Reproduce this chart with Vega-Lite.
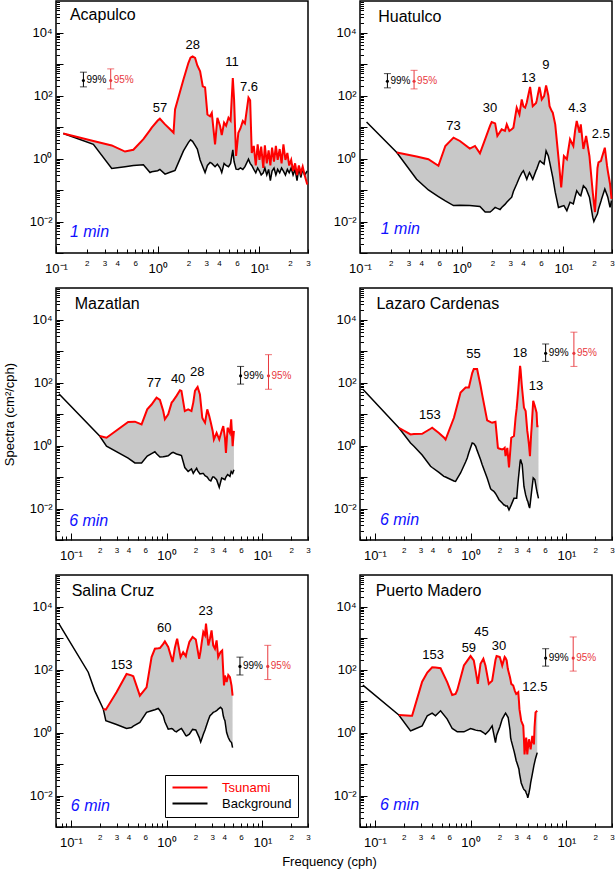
{
"$schema": "https://vega.github.io/schema/vega-lite/v6.json",
"padding": {"left": 2, "top": 0, "right": 2, "bottom": 2},
"config": {
 "font": "Liberation Sans",
 "view": {"stroke": "#000", "strokeWidth": 1.5},
 "axis": {"domain": false, "grid": false, "tickColor": "#000", "tickWidth": 1, "labelColor": "#000", "labelFont": "Liberation Sans", "titleFont": "Liberation Sans", "titleColor": "#000", "labelFlush": false, "labelOverlap": false, "titleFontWeight": "normal", "titleFontSize": 13},
 "text": {"font": "Liberation Sans"}
},
"datasets": {"d": [
{"k":"s","st":"ACA","f":0.118,"t":6.2,"b":6.2},{"k":"s","st":"ACA","f":0.233,"t":3.6,"b":2.8},{"k":"s","st":"ACA","f":0.353,"t":2.6,"b":0.48},{"k":"s","st":"ACA","f":0.477,"t":1.66,"b":0.55},{"k":"s","st":"ACA","f":0.576,"t":1.9,"b":0.6},{"k":"s","st":"ACA","f":0.723,"t":4.1,"b":0.63},{"k":"s","st":"ACA","f":0.84,"t":8,"b":0.36},{"k":"s","st":"ACA","f":0.873,"t":9.5,"b":0.38},{"k":"s","st":"ACA","f":1.0,"t":16,"b":0.41},{"k":"s","st":"ACA","f":1.05,"t":18.3,"b":0.45},{"k":"s","st":"ACA","f":1.18,"t":12.1,"b":0.32},{"k":"s","st":"ACA","f":1.3,"t":9,"b":0.36},{"k":"s","st":"ACA","f":1.43,"t":6.6,"b":0.4},{"k":"s","st":"ACA","f":1.48,"t":36,"b":0.42},{"k":"s","st":"ACA","f":1.79,"t":320,"b":1.75},{"k":"s","st":"ACA","f":2.0,"t":1070,"b":3.2},{"k":"s","st":"ACA","f":2.1,"t":1600,"b":3.9},{"k":"s","st":"ACA","f":2.2,"t":1750,"b":3.5},{"k":"s","st":"ACA","f":2.33,"t":1550,"b":2.6},{"k":"s","st":"ACA","f":2.45,"t":900,"b":2.0},{"k":"s","st":"ACA","f":2.61,"t":590,"b":0.9},{"k":"s","st":"ACA","f":2.77,"t":196,"b":0.55},{"k":"s","st":"ACA","f":2.92,"t":180,"b":0.36},{"k":"s","st":"ACA","f":3.08,"t":25,"b":0.6},{"k":"s","st":"ACA","f":3.27,"t":22,"b":0.75},{"k":"s","st":"ACA","f":3.4,"t":28,"b":0.7},{"k":"s","st":"ACA","f":3.66,"t":2.8,"b":0.55},{"k":"s","st":"ACA","f":3.86,"t":19.7,"b":0.66},{"k":"s","st":"ACA","f":4.1,"t":10.8,"b":0.5},{"k":"s","st":"ACA","f":4.26,"t":5.5,"b":0.36},{"k":"s","st":"ACA","f":4.49,"t":13.7,"b":0.7},{"k":"s","st":"ACA","f":4.7,"t":11,"b":0.6},{"k":"s","st":"ACA","f":4.96,"t":19.7,"b":0.55},{"k":"s","st":"ACA","f":5.2,"t":16,"b":0.7},{"k":"s","st":"ACA","f":5.47,"t":361,"b":1.88},{"k":"s","st":"ACA","f":5.63,"t":75,"b":0.8},{"k":"s","st":"ACA","f":5.89,"t":1.2,"b":0.46},{"k":"s","st":"ACA","f":6.2,"t":6.6,"b":0.45},{"k":"s","st":"ACA","f":6.5,"t":9,"b":0.5},{"k":"s","st":"ACA","f":6.86,"t":15.5,"b":0.45},{"k":"s","st":"ACA","f":7.2,"t":13,"b":0.55},{"k":"s","st":"ACA","f":7.8,"t":85,"b":0.95},{"k":"s","st":"ACA","f":8.1,"t":70,"b":0.7},{"k":"s","st":"ACA","f":8.4,"t":1.5,"b":0.6},{"k":"s","st":"ACA","f":8.8,"t":2.5,"b":0.45},{"k":"s","st":"ACA","f":9.2,"t":0.6,"b":0.35},{"k":"s","st":"ACA","f":9.6,"t":2.8,"b":0.5},{"k":"s","st":"ACA","f":10.0,"t":0.9,"b":0.4},{"k":"s","st":"ACA","f":10.4,"t":2.4,"b":0.3},{"k":"s","st":"ACA","f":10.9,"t":0.5,"b":0.35},{"k":"s","st":"ACA","f":11.3,"t":2.6,"b":0.5},{"k":"s","st":"ACA","f":11.8,"t":0.7,"b":0.3},{"k":"s","st":"ACA","f":12.3,"t":1.8,"b":0.45},{"k":"s","st":"ACA","f":12.8,"t":0.6,"b":0.2},{"k":"s","st":"ACA","f":13.3,"t":2.2,"b":0.4},{"k":"s","st":"ACA","f":13.9,"t":0.8,"b":0.5},{"k":"s","st":"ACA","f":14.5,"t":2.5,"b":0.3},{"k":"s","st":"ACA","f":15.1,"t":0.9,"b":0.45},{"k":"s","st":"ACA","f":15.8,"t":2.0,"b":0.35},{"k":"s","st":"ACA","f":16.5,"t":0.7,"b":0.5},{"k":"s","st":"ACA","f":17.2,"t":2.8,"b":0.4},{"k":"s","st":"ACA","f":18.0,"t":0.9,"b":0.3},{"k":"s","st":"ACA","f":18.8,"t":1.5,"b":0.45},{"k":"s","st":"ACA","f":19.6,"t":0.6,"b":0.35},{"k":"s","st":"ACA","f":20.5,"t":0.9,"b":0.5},{"k":"s","st":"ACA","f":21.4,"t":0.4,"b":0.3},{"k":"s","st":"ACA","f":22.4,"t":0.7,"b":0.45},{"k":"s","st":"ACA","f":23.4,"t":0.3,"b":0.2},{"k":"s","st":"ACA","f":24.4,"t":0.6,"b":0.5},{"k":"s","st":"ACA","f":25.5,"t":0.35,"b":0.25},{"k":"s","st":"ACA","f":26.6,"t":0.55,"b":0.45},{"k":"s","st":"ACA","f":27.8,"t":0.3,"b":0.3},{"k":"s","st":"ACA","f":29.5,"t":0.15,"b":0.4},
{"k":"s","st":"HUA","f":0.116,"b":14.4},{"k":"s","st":"HUA","f":0.23,"t":1.55,"b":1.55},{"k":"s","st":"HUA","f":0.36,"t":1.15,"b":0.22},{"k":"s","st":"HUA","f":0.47,"t":0.95,"b":0.1},{"k":"s","st":"HUA","f":0.59,"t":0.59,"b":0.062},{"k":"s","st":"HUA","f":0.69,"t":2.5,"b":0.045},{"k":"s","st":"HUA","f":0.83,"t":4.6,"b":0.032},{"k":"s","st":"HUA","f":0.96,"t":3.6,"b":0.033},{"k":"s","st":"HUA","f":1.2,"t":2.07,"b":0.032},{"k":"s","st":"HUA","f":1.35,"t":2.5,"b":0.031},{"k":"s","st":"HUA","f":1.51,"t":1.47,"b":0.03},{"k":"s","st":"HUA","f":1.7,"t":4.1,"b":0.02},{"k":"s","st":"HUA","f":1.9,"t":11,"b":0.02},{"k":"s","st":"HUA","f":1.97,"t":14.4,"b":0.022},{"k":"s","st":"HUA","f":2.13,"t":13,"b":0.028},{"k":"s","st":"HUA","f":2.24,"t":5.2,"b":0.026},{"k":"s","st":"HUA","f":2.38,"t":7,"b":0.024},{"k":"s","st":"HUA","f":2.47,"t":8.4,"b":0.028},{"k":"s","st":"HUA","f":2.66,"t":7.5,"b":0.035},{"k":"s","st":"HUA","f":2.77,"t":12.1,"b":0.041},{"k":"s","st":"HUA","f":2.94,"t":7.5,"b":0.05},{"k":"s","st":"HUA","f":3.1,"t":8.5,"b":0.059},{"k":"s","st":"HUA","f":3.22,"t":9.5,"b":0.09},{"k":"s","st":"HUA","f":3.47,"t":41,"b":0.155},{"k":"s","st":"HUA","f":3.69,"t":25,"b":0.25},{"k":"s","st":"HUA","f":3.89,"t":75,"b":0.35},{"k":"s","st":"HUA","f":4.04,"t":45,"b":0.41},{"k":"s","st":"HUA","f":4.2,"t":41,"b":0.3},{"k":"s","st":"HUA","f":4.36,"t":60,"b":0.22},{"k":"s","st":"HUA","f":4.42,"t":75,"b":0.25},{"k":"s","st":"HUA","f":4.63,"t":150,"b":0.36},{"k":"s","st":"HUA","f":4.7,"t":188,"b":0.33},{"k":"s","st":"HUA","f":4.99,"t":46,"b":0.22},{"k":"s","st":"HUA","f":5.38,"t":58,"b":0.42},{"k":"s","st":"HUA","f":5.46,"t":70,"b":0.46},{"k":"s","st":"HUA","f":5.8,"t":188,"b":0.8},{"k":"s","st":"HUA","f":5.89,"t":150,"b":0.84},{"k":"s","st":"HUA","f":6.12,"t":75,"b":0.75},{"k":"s","st":"HUA","f":6.45,"t":95,"b":0.66},{"k":"s","st":"HUA","f":6.75,"t":208,"b":1.75},{"k":"s","st":"HUA","f":7.1,"t":100,"b":1.2},{"k":"s","st":"HUA","f":7.3,"t":46,"b":0.8},{"k":"s","st":"HUA","f":7.67,"t":32,"b":0.36},{"k":"s","st":"HUA","f":7.85,"t":28.5,"b":0.25},{"k":"s","st":"HUA","f":8.3,"t":12.1,"b":0.085},{"k":"s","st":"HUA","f":8.93,"t":1.07,"b":0.028},{"k":"s","st":"HUA","f":9.5,"t":0.12,"b":0.03},{"k":"s","st":"HUA","f":10.1,"t":1.2,"b":0.032},{"k":"s","st":"HUA","f":10.8,"t":0.95,"b":0.022},{"k":"s","st":"HUA","f":11.6,"t":4.1,"b":0.041},{"k":"s","st":"HUA","f":12.5,"t":2.5,"b":0.036},{"k":"s","st":"HUA","f":13.0,"t":7.5,"b":0.06},{"k":"s","st":"HUA","f":13.5,"t":15.5,"b":0.095},{"k":"s","st":"HUA","f":14.4,"t":6.6,"b":0.07},{"k":"s","st":"HUA","f":14.8,"t":12.1,"b":0.066},{"k":"s","st":"HUA","f":15.7,"t":2.0,"b":0.137},{"k":"s","st":"HUA","f":16.7,"t":5.2,"b":0.11},{"k":"s","st":"HUA","f":18,"t":1.2,"b":0.059},{"k":"s","st":"HUA","f":19.4,"t":0.085,"b":0.0137},{"k":"s","st":"HUA","f":19.9,"t":0.04,"b":0.01},{"k":"s","st":"HUA","f":20.4,"t":0.02,"b":0.012},{"k":"s","st":"HUA","f":21.6,"t":0.5,"b":0.0175},{"k":"s","st":"HUA","f":22.1,"t":0.75,"b":0.025},{"k":"s","st":"HUA","f":23.4,"t":0.84,"b":0.045},{"k":"s","st":"HUA","f":23.7,"t":1.0,"b":0.052},{"k":"s","st":"HUA","f":25.5,"t":2.2,"b":0.108},{"k":"s","st":"HUA","f":26.8,"t":0.59,"b":0.07},{"k":"s","st":"HUA","f":27.3,"t":0.4,"b":0.059},{"k":"s","st":"HUA","f":28.7,"t":0.155,"b":0.028},{"k":"s","st":"HUA","f":29.7,"t":0.052,"b":0.046},
{"k":"s","st":"MAZ","f":0.075,"b":44},{"k":"s","st":"MAZ","f":0.2,"t":2.0,"b":2.0},{"k":"s","st":"MAZ","f":0.236,"t":1.76,"b":0.95},{"k":"s","st":"MAZ","f":0.397,"t":5.6,"b":0.4},{"k":"s","st":"MAZ","f":0.467,"t":5.7,"b":0.28},{"k":"s","st":"MAZ","f":0.548,"t":4.7,"b":0.28},{"k":"s","st":"MAZ","f":0.628,"t":14.1,"b":0.46},{"k":"s","st":"MAZ","f":0.697,"t":20,"b":0.55},{"k":"s","st":"MAZ","f":0.755,"t":28,"b":0.63},{"k":"s","st":"MAZ","f":0.786,"t":33,"b":0.55},{"k":"s","st":"MAZ","f":0.852,"t":28,"b":0.43},{"k":"s","st":"MAZ","f":0.923,"t":12.4,"b":0.44},{"k":"s","st":"MAZ","f":0.96,"t":6.8,"b":0.45},{"k":"s","st":"MAZ","f":1.04,"t":9.8,"b":0.47},{"k":"s","st":"MAZ","f":1.13,"t":23,"b":0.58},{"k":"s","st":"MAZ","f":1.17,"t":26,"b":0.61},{"k":"s","st":"MAZ","f":1.27,"t":37.6,"b":0.54},{"k":"s","st":"MAZ","f":1.38,"t":57,"b":0.5},{"k":"s","st":"MAZ","f":1.43,"t":54,"b":0.48},{"k":"s","st":"MAZ","f":1.55,"t":12.4,"b":0.2},{"k":"s","st":"MAZ","f":1.68,"t":14.1,"b":0.15},{"k":"s","st":"MAZ","f":1.82,"t":12.4,"b":0.18},{"k":"s","st":"MAZ","f":1.9,"t":23,"b":0.13},{"k":"s","st":"MAZ","f":1.98,"t":54,"b":0.16},{"k":"s","st":"MAZ","f":2.06,"t":65,"b":0.19},{"k":"s","st":"MAZ","f":2.11,"t":72,"b":0.16},{"k":"s","st":"MAZ","f":2.23,"t":42,"b":0.125},{"k":"s","st":"MAZ","f":2.36,"t":7.6,"b":0.13},{"k":"s","st":"MAZ","f":2.42,"t":6.5,"b":0.13},{"k":"s","st":"MAZ","f":2.52,"t":5.3,"b":0.11},{"k":"s","st":"MAZ","f":2.66,"t":14.1,"b":0.1},{"k":"s","st":"MAZ","f":2.79,"t":8.6,"b":0.08},{"k":"s","st":"MAZ","f":2.9,"t":5.3,"b":0.075},{"k":"s","st":"MAZ","f":3.03,"t":2.9,"b":0.1},{"k":"s","st":"MAZ","f":3.12,"t":1.55,"b":0.1},{"k":"s","st":"MAZ","f":3.33,"t":2.5,"b":0.082},{"k":"s","st":"MAZ","f":3.55,"t":1.55,"b":0.047},{"k":"s","st":"MAZ","f":3.76,"t":2.9,"b":0.093},{"k":"s","st":"MAZ","f":3.91,"t":4.1,"b":0.088},{"k":"s","st":"MAZ","f":4.07,"t":1.76,"b":0.082},{"k":"s","st":"MAZ","f":4.17,"t":0.58,"b":0.1},{"k":"s","st":"MAZ","f":4.34,"t":3.66,"b":0.12},{"k":"s","st":"MAZ","f":4.59,"t":2.5,"b":0.105},{"k":"s","st":"MAZ","f":4.73,"t":6.8,"b":0.15},{"k":"s","st":"MAZ","f":4.9,"t":0.95,"b":0.13},{"k":"s","st":"MAZ","f":5.05,"t":2.9,"b":0.17},
{"k":"s","st":"LAZ","f":0.075,"b":61},{"k":"s","st":"LAZ","f":0.178,"t":3.66,"b":3.66},{"k":"s","st":"LAZ","f":0.236,"t":2.24,"b":1.2},{"k":"s","st":"LAZ","f":0.256,"t":2.3,"b":0.95},{"k":"s","st":"LAZ","f":0.312,"t":2.36,"b":0.5},{"k":"s","st":"LAZ","f":0.382,"t":3.4,"b":0.22},{"k":"s","st":"LAZ","f":0.397,"t":3.66,"b":0.2},{"k":"s","st":"LAZ","f":0.467,"t":2.5,"b":0.14},{"k":"s","st":"LAZ","f":0.526,"t":1.8,"b":0.105},{"k":"s","st":"LAZ","f":0.548,"t":1.55,"b":0.1},{"k":"s","st":"LAZ","f":0.67,"t":7.6,"b":0.075},{"k":"s","st":"LAZ","f":0.697,"t":12,"b":0.073},{"k":"s","st":"LAZ","f":0.786,"t":48,"b":0.134},{"k":"s","st":"LAZ","f":0.887,"t":69,"b":0.3},{"k":"s","st":"LAZ","f":0.923,"t":69,"b":0.4},{"k":"s","st":"LAZ","f":0.96,"t":69,"b":0.6},{"k":"s","st":"LAZ","f":1.04,"t":200,"b":1.2},{"k":"s","st":"LAZ","f":1.08,"t":267,"b":1.15},{"k":"s","st":"LAZ","f":1.13,"t":267,"b":0.95},{"k":"s","st":"LAZ","f":1.17,"t":267,"b":0.7},{"k":"s","st":"LAZ","f":1.27,"t":80,"b":0.36},{"k":"s","st":"LAZ","f":1.32,"t":42,"b":0.25},{"k":"s","st":"LAZ","f":1.49,"t":6.3,"b":0.093},{"k":"s","st":"LAZ","f":1.62,"t":5.5,"b":0.042},{"k":"s","st":"LAZ","f":1.68,"t":5.3,"b":0.038},{"k":"s","st":"LAZ","f":1.75,"t":5.5,"b":0.035},{"k":"s","st":"LAZ","f":1.82,"t":5.7,"b":0.03},{"k":"s","st":"LAZ","f":1.93,"t":0.84,"b":0.022},{"k":"s","st":"LAZ","f":1.98,"t":0.8,"b":0.019},{"k":"s","st":"LAZ","f":2.14,"t":0.75,"b":0.015},{"k":"s","st":"LAZ","f":2.23,"t":0.8,"b":0.013},{"k":"s","st":"LAZ","f":2.27,"t":0.84,"b":0.013},{"k":"s","st":"LAZ","f":2.32,"t":0.46,"b":0.012},{"k":"s","st":"LAZ","f":2.42,"t":0.84,"b":0.012},{"k":"s","st":"LAZ","f":2.52,"t":0.2,"b":0.009},{"k":"s","st":"LAZ","f":2.66,"t":1.76,"b":0.013},{"k":"s","st":"LAZ","f":2.84,"t":2.0,"b":0.021},{"k":"s","st":"LAZ","f":2.95,"t":7.6,"b":0.021},{"k":"s","st":"LAZ","f":3.03,"t":15,"b":0.021},{"k":"s","st":"LAZ","f":3.12,"t":42,"b":0.06},{"k":"s","st":"LAZ","f":3.15,"t":60,"b":0.082},{"k":"s","st":"LAZ","f":3.29,"t":340,"b":0.3},{"k":"s","st":"LAZ","f":3.33,"t":250,"b":0.36},{"k":"s","st":"LAZ","f":3.42,"t":88,"b":0.27},{"k":"s","st":"LAZ","f":3.46,"t":60,"b":0.25},{"k":"s","st":"LAZ","f":3.61,"t":16,"b":0.05},{"k":"s","st":"LAZ","f":3.76,"t":12.4,"b":0.027},{"k":"s","st":"LAZ","f":3.91,"t":2.9,"b":0.018},{"k":"s","st":"LAZ","f":3.96,"t":2.2,"b":0.017},{"k":"s","st":"LAZ","f":4.07,"t":1.08,"b":0.012},{"k":"s","st":"LAZ","f":4.14,"t":0.6,"b":0.0103},{"k":"s","st":"LAZ","f":4.17,"t":0.46,"b":0.012},{"k":"s","st":"LAZ","f":4.3,"t":2.5,"b":0.027},{"k":"s","st":"LAZ","f":4.34,"t":3.66,"b":0.035},{"k":"s","st":"LAZ","f":4.51,"t":26,"b":0.093},{"k":"s","st":"LAZ","f":4.69,"t":18,"b":0.082},{"k":"s","st":"LAZ","f":4.89,"t":11,"b":0.04},{"k":"s","st":"LAZ","f":4.97,"t":4.1,"b":0.031},{"k":"s","st":"LAZ","f":5.12,"t":4.1,"b":0.021},
{"k":"s","st":"SAL","f":0.075,"b":2880},{"k":"s","st":"SAL","f":0.152,"b":82},{"k":"s","st":"SAL","f":0.178,"b":21},{"k":"s","st":"SAL","f":0.218,"t":5.6,"b":5.6},{"k":"s","st":"SAL","f":0.232,"t":5.3,"b":2.36},{"k":"s","st":"SAL","f":0.3,"t":19,"b":1.8},{"k":"s","st":"SAL","f":0.382,"t":72,"b":1.34},{"k":"s","st":"SAL","f":0.43,"t":65,"b":1.44},{"k":"s","st":"SAL","f":0.449,"t":61,"b":1.6},{"k":"s","st":"SAL","f":0.526,"t":14.8,"b":2.1},{"k":"s","st":"SAL","f":0.618,"t":27,"b":4.35},{"k":"s","st":"SAL","f":0.697,"t":247,"b":4.9},{"k":"s","st":"SAL","f":0.755,"t":455,"b":5.3},{"k":"s","st":"SAL","f":0.818,"t":470,"b":5.8},{"k":"s","st":"SAL","f":0.852,"t":480,"b":5.0},{"k":"s","st":"SAL","f":0.923,"t":650,"b":3.4},{"k":"s","st":"SAL","f":0.96,"t":780,"b":2.2},{"k":"s","st":"SAL","f":1.04,"t":520,"b":1.28},{"k":"s","st":"SAL","f":1.13,"t":220,"b":1.34},{"k":"s","st":"SAL","f":1.155,"t":172,"b":1.3},{"k":"s","st":"SAL","f":1.22,"t":480,"b":1.1},{"k":"s","st":"SAL","f":1.27,"t":800,"b":1.05},{"k":"s","st":"SAL","f":1.29,"t":950,"b":1.1},{"k":"s","st":"SAL","f":1.4,"t":247,"b":1.3},{"k":"s","st":"SAL","f":1.43,"t":280,"b":1.34},{"k":"s","st":"SAL","f":1.49,"t":355,"b":1.1},{"k":"s","st":"SAL","f":1.59,"t":265,"b":0.8},{"k":"s","st":"SAL","f":1.62,"t":350,"b":0.78},{"k":"s","st":"SAL","f":1.73,"t":745,"b":0.88},{"k":"s","st":"SAL","f":1.87,"t":1075,"b":1.25},{"k":"s","st":"SAL","f":2.02,"t":900,"b":1.2},{"k":"s","st":"SAL","f":2.19,"t":218,"b":0.7},{"k":"s","st":"SAL","f":2.27,"t":400,"b":0.5},{"k":"s","st":"SAL","f":2.32,"t":660,"b":0.6},{"k":"s","st":"SAL","f":2.42,"t":1550,"b":0.88},{"k":"s","st":"SAL","f":2.52,"t":1230,"b":1.2},{"k":"s","st":"SAL","f":2.58,"t":2880,"b":1.5},{"k":"s","st":"SAL","f":2.73,"t":580,"b":2.5},{"k":"s","st":"SAL","f":2.84,"t":950,"b":3.4},{"k":"s","st":"SAL","f":2.95,"t":1750,"b":3.8},{"k":"s","st":"SAL","f":3.07,"t":580,"b":4.35},{"k":"s","st":"SAL","f":3.2,"t":455,"b":4.6},{"k":"s","st":"SAL","f":3.33,"t":840,"b":4.9},{"k":"s","st":"SAL","f":3.46,"t":247,"b":5.5},{"k":"s","st":"SAL","f":3.66,"t":355,"b":6.3},{"k":"s","st":"SAL","f":3.81,"t":400,"b":5.5},{"k":"s","st":"SAL","f":3.91,"t":82,"b":3.4},{"k":"s","st":"SAL","f":3.98,"t":31,"b":2.8},{"k":"s","st":"SAL","f":4.07,"t":64,"b":2.36},{"k":"s","st":"SAL","f":4.24,"t":40,"b":1.0},{"k":"s","st":"SAL","f":4.41,"t":67,"b":0.69},{"k":"s","st":"SAL","f":4.59,"t":57,"b":0.54},{"k":"s","st":"SAL","f":4.77,"t":31,"b":0.48},{"k":"s","st":"SAL","f":4.89,"t":14.8,"b":0.33},
{"k":"s","st":"PUE","f":0.075,"b":32},{"k":"s","st":"PUE","f":0.178,"t":3.6,"b":3.6},{"k":"s","st":"PUE","f":0.236,"t":3.4,"b":1.13},{"k":"s","st":"PUE","f":0.245,"t":3.4,"b":1.18},{"k":"s","st":"PUE","f":0.312,"t":41,"b":1.63},{"k":"s","st":"PUE","f":0.353,"t":80,"b":3.4},{"k":"s","st":"PUE","f":0.397,"t":118,"b":4.1},{"k":"s","st":"PUE","f":0.43,"t":115,"b":3.4},{"k":"s","st":"PUE","f":0.486,"t":110,"b":4.9},{"k":"s","st":"PUE","f":0.57,"t":40,"b":2.66},{"k":"s","st":"PUE","f":0.643,"t":15.5,"b":1.34},{"k":"s","st":"PUE","f":0.697,"t":16.7,"b":1.15},{"k":"s","st":"PUE","f":0.726,"t":22,"b":1.05},{"k":"s","st":"PUE","f":0.852,"t":134,"b":1.05},{"k":"s","st":"PUE","f":1.0,"t":267,"b":1.34},{"k":"s","st":"PUE","f":1.08,"t":195,"b":1.25},{"k":"s","st":"PUE","f":1.13,"t":90,"b":1.19},{"k":"s","st":"PUE","f":1.19,"t":35,"b":1.15},{"k":"s","st":"PUE","f":1.27,"t":152,"b":1.13},{"k":"s","st":"PUE","f":1.36,"t":218,"b":1.0},{"k":"s","st":"PUE","f":1.43,"t":134,"b":0.88},{"k":"s","st":"PUE","f":1.55,"t":35,"b":1.13},{"k":"s","st":"PUE","f":1.68,"t":44,"b":1.63},{"k":"s","st":"PUE","f":1.82,"t":200,"b":0.48},{"k":"s","st":"PUE","f":1.87,"t":267,"b":0.8},{"k":"s","st":"PUE","f":1.98,"t":255,"b":1.28},{"k":"s","st":"PUE","f":2.02,"t":250,"b":1.5},{"k":"s","st":"PUE","f":2.14,"t":134,"b":2.66},{"k":"s","st":"PUE","f":2.27,"t":250,"b":3.7},{"k":"s","st":"PUE","f":2.32,"t":230,"b":4.1},{"k":"s","st":"PUE","f":2.38,"t":195,"b":3.6},{"k":"s","st":"PUE","f":2.45,"t":105,"b":3.1},{"k":"s","st":"PUE","f":2.47,"t":95,"b":3.0},{"k":"s","st":"PUE","f":2.58,"t":57,"b":1.2},{"k":"s","st":"PUE","f":2.62,"t":45,"b":0.69},{"k":"s","st":"PUE","f":2.66,"t":35,"b":0.55},{"k":"s","st":"PUE","f":2.79,"t":31,"b":0.32},{"k":"s","st":"PUE","f":2.84,"t":26,"b":0.26},{"k":"s","st":"PUE","f":2.9,"t":21,"b":0.2},{"k":"s","st":"PUE","f":3.0,"t":16.7,"b":0.125},{"k":"s","st":"PUE","f":3.03,"t":17,"b":0.116},{"k":"s","st":"PUE","f":3.15,"t":19,"b":0.08},{"k":"s","st":"PUE","f":3.2,"t":10,"b":0.068},{"k":"s","st":"PUE","f":3.24,"t":5.5,"b":0.05},{"k":"s","st":"PUE","f":3.38,"t":2.36,"b":0.025},{"k":"s","st":"PUE","f":3.55,"t":1.63,"b":0.017},{"k":"s","st":"PUE","f":3.61,"t":0.6,"b":0.0155},{"k":"s","st":"PUE","f":3.66,"t":0.2,"b":0.015},{"k":"s","st":"PUE","f":3.76,"t":0.5,"b":0.0137},{"k":"s","st":"PUE","f":3.81,"t":0.69,"b":0.012},{"k":"s","st":"PUE","f":3.91,"t":0.2,"b":0.01},{"k":"s","st":"PUE","f":3.96,"t":0.3,"b":0.0085},{"k":"s","st":"PUE","f":4.07,"t":0.61,"b":0.012},{"k":"s","st":"PUE","f":4.17,"t":0.4,"b":0.0175},{"k":"s","st":"PUE","f":4.24,"t":0.29,"b":0.025},{"k":"s","st":"PUE","f":4.41,"t":0.78,"b":0.047},{"k":"s","st":"PUE","f":4.59,"t":0.42,"b":0.09},{"k":"s","st":"PUE","f":4.66,"t":1.5,"b":0.11},{"k":"s","st":"PUE","f":4.77,"t":4.35,"b":0.15},{"k":"s","st":"PUE","f":4.97,"t":4.9,"b":0.23},
{"k":"a","st":"ACA","f":1.05,"v":41,"lab":"57"},{"k":"a","st":"ACA","f":2.21,"v":4070,"lab":"28"},{"k":"a","st":"ACA","f":5.38,"v":1200,"lab":"11"},{"k":"a","st":"ACA","f":7.9,"v":188,"lab":"7.6"},
{"k":"a","st":"HUA","f":0.83,"v":10.8,"lab":"73"},{"k":"a","st":"HUA","f":1.9,"v":41,"lab":"30"},{"k":"a","st":"HUA","f":4.53,"v":361,"lab":"13"},{"k":"a","st":"HUA","f":6.7,"v":950,"lab":"9"},{"k":"a","st":"HUA","f":13.7,"v":41,"lab":"4.3"},{"k":"a","st":"HUA","f":23.3,"v":5.9,"lab":"2.5"},
{"k":"a","st":"MAZ","f":0.737,"v":93,"lab":"77"},{"k":"a","st":"MAZ","f":1.32,"v":128,"lab":"40"},{"k":"a","st":"MAZ","f":2.09,"v":208,"lab":"28"},
{"k":"a","st":"LAZ","f":0.376,"v":9.1,"lab":"153"},{"k":"a","st":"LAZ","f":1.07,"v":800,"lab":"55"},{"k":"a","st":"LAZ","f":3.28,"v":845,"lab":"18"},{"k":"a","st":"LAZ","f":4.82,"v":78,"lab":"13"},
{"k":"a","st":"SAL","f":0.339,"v":141,"lab":"153"},{"k":"a","st":"SAL","f":0.946,"v":2090,"lab":"60"},{"k":"a","st":"SAL","f":2.56,"v":7080,"lab":"23"},
{"k":"a","st":"PUE","f":0.407,"v":280,"lab":"153"},{"k":"a","st":"PUE","f":0.96,"v":490,"lab":"59"},{"k":"a","st":"PUE","f":1.3,"v":1550,"lab":"45"},{"k":"a","st":"PUE","f":1.98,"v":540,"lab":"30"},{"k":"a","st":"PUE","f":4.7,"v":28,"lab":"12.5"},
{"k":"n","st":"ACA","f":0.137,"v":36000,"lab":"Acapulco"},{"k":"n","st":"HUA","f":0.151,"v":32000,"lab":"Huatulco"},{"k":"n","st":"MAZ","f":0.11,"v":32000,"lab":"Mazatlan"},{"k":"n","st":"LAZ","f":0.104,"v":32000,"lab":"Lazaro Cardenas"},{"k":"n","st":"SAL","f":0.102,"v":31000,"lab":"Salina Cruz"},{"k":"n","st":"PUE","f":0.102,"v":31000,"lab":"Puerto Madero"},
{"k":"m","st":"ACA","f":0.137,"v":0.0046,"lab":"1 min"},{"k":"m","st":"HUA","f":0.16,"v":0.0056,"lab":"1 min"},{"k":"m","st":"MAZ","f":0.096,"v":0.0039,"lab":"6 min"},{"k":"m","st":"LAZ","f":0.113,"v":0.0044,"lab":"6 min"},{"k":"m","st":"SAL","f":0.1,"v":0.0046,"lab":"6 min"},{"k":"m","st":"PUE","f":0.113,"v":0.0051,"lab":"6 min"},
{"k":"e","st":"ACA","f":0.186,"lo":188,"mid":300,"hi":550,"lev":"99%"},{"k":"e","st":"ACA","f":0.345,"lo":162,"mid":300,"hi":700,"lev":"95%"},
{"k":"e","st":"HUA","f":0.186,"lo":175,"mid":283,"hi":495,"lev":"99%"},{"k":"e","st":"HUA","f":0.34,"lo":162,"mid":283,"hi":630,"lev":"95%"},
{"k":"e","st":"MAZ","f":5.93,"lo":89,"mid":163,"hi":324,"lev":"99%"},{"k":"e","st":"MAZ","f":11.6,"lo":61,"mid":163,"hi":765,"lev":"95%"},
{"k":"e","st":"LAZ","f":6.08,"lo":468,"mid":845,"hi":1670,"lev":"99%"},{"k":"e","st":"LAZ","f":12.0,"lo":324,"mid":845,"hi":3960,"lev":"95%"},
{"k":"e","st":"SAL","f":5.84,"lo":67,"mid":125,"hi":247,"lev":"99%"},{"k":"e","st":"SAL","f":11.4,"lo":48,"mid":125,"hi":585,"lev":"95%"},
{"k":"e","st":"PUE","f":6.08,"lo":128,"mid":230,"hi":457,"lev":"99%"},{"k":"e","st":"PUE","f":11.8,"lo":89,"mid":230,"hi":1080,"lev":"95%"}
]},
"columns": 2,
"spacing": {"row": 35, "column": 52},
"bounds": "flush",
"resolve": {"scale": {"color": "independent"}, "legend": {"color": "independent"}},
"concat": [
{"width":252,"height":252,"data":{"name":"d"},"transform":[{"filter":"datum.st=='ACA'"}],
"encoding":{"x":{"field":"f","type":"quantitative","scale":{"type":"log","domain":[0.1,30],"nice":false},"axis":{"values":[0.1,0.2,0.3,0.4,0.5,0.6,0.7,0.8,0.9,1,2,3,4,5,6,7,8,9,10,20,30],"labelExpr":"abs(log(datum.value)/LN10-round(log(datum.value)/LN10))<0.001 ? (datum.value<0.5?'10⁻¹':datum.value<5?'10⁰':'10¹') : (indexof([2,3,4,6],round(datum.value/pow(10,floor(log(datum.value)/LN10+0.000001))))>=0 ? ''+round(datum.value/pow(10,floor(log(datum.value)/LN10+0.000001))) : '')","labelBaseline":"top","labelFontSize":{"condition":{"test":"abs(log(datum.value)/LN10-round(log(datum.value)/LN10))<0.001","value":13},"value":8},"tickSize":{"condition":{"test":"abs(log(datum.value)/LN10-round(log(datum.value)/LN10))<0.001","value":-7},"value":-4},"labelPadding":{"condition":{"test":"abs(log(datum.value)/LN10-round(log(datum.value)/LN10))<0.001","value":16},"value":10},"title":null}}},
"layer":[
{"transform":[{"filter":"datum.k=='s'"}],"mark":{"type":"area","color":"#c8c8c8"},"encoding":{
 "y":{"field":"t","type":"quantitative","scale":{"type":"log","domain":[0.001,100000],"nice":false},"axis":{"values":[0.001,0.002,0.003,0.004,0.005,0.006,0.007,0.008,0.009,0.01,0.02,0.03,0.04,0.05,0.06,0.07,0.08,0.09,0.1,0.2,0.3,0.4,0.5,0.6,0.7,0.8,0.9,1,2,3,4,5,6,7,8,9,10,20,30,40,50,60,70,80,90,100,200,300,400,500,600,700,800,900,1000,2000,3000,4000,5000,6000,7000,8000,9000,10000,20000,30000,40000,50000,60000,70000,80000,90000],"labelExpr":"datum.value==10000?'10⁴':datum.value==100?'10²':datum.value==1?'10⁰':datum.value==0.01?'10⁻²':''","labelFontSize":{"condition":{"test":"abs(log(datum.value)/LN10-round(log(datum.value)/LN10))<0.001","value":13},"value":1},"tickSize":{"condition":{"test":"abs(log(datum.value)/LN10-round(log(datum.value)/LN10))<0.001","value":-7},"value":-3.5},"labelPadding":{"condition":{"test":"abs(log(datum.value)/LN10-round(log(datum.value)/LN10))<0.001","value":11},"value":8},"title":null}},
 "y2":{"field":"b"}}},
{"transform":[{"filter":"datum.k=='s'"}],"mark":{"type":"line","strokeWidth":1.5},"encoding":{"y":{"field":"b","type":"quantitative","scale":{"type":"log","domain":[0.001,100000],"nice":false}},"color":{"datum":"Background","type":"nominal","scale":{"domain":["Tsunami","Background"],"range":["#ff0000","#000000"]},"legend":null}}},
{"transform":[{"filter":"datum.k=='s'"}],"mark":{"type":"line","strokeWidth":2},"encoding":{"y":{"field":"t","type":"quantitative","scale":{"type":"log","domain":[0.001,100000],"nice":false}},"color":{"datum":"Tsunami","type":"nominal","scale":{"domain":["Tsunami","Background"],"range":["#ff0000","#000000"]},"legend":null}}},
{"transform":[{"filter":"datum.k=='e'"}],"mark":{"type":"rule","strokeWidth":1},"encoding":{"y":{"field":"lo","type":"quantitative","scale":{"type":"log","domain":[0.001,100000],"nice":false}},"y2":{"field":"hi"},"color":{"condition":{"test":"datum.lev=='95%'","value":"#e8383d"},"value":"#000000"}}},
{"transform":[{"filter":"datum.k=='e'"}],"mark":{"type":"tick","orient":"horizontal","size":7,"thickness":1},"encoding":{"y":{"field":"lo","type":"quantitative","scale":{"type":"log","domain":[0.001,100000],"nice":false}},"color":{"condition":{"test":"datum.lev=='95%'","value":"#e8383d"},"value":"#000000"}}},
{"transform":[{"filter":"datum.k=='e'"}],"mark":{"type":"tick","orient":"horizontal","size":7,"thickness":1},"encoding":{"y":{"field":"hi","type":"quantitative","scale":{"type":"log","domain":[0.001,100000],"nice":false}},"color":{"condition":{"test":"datum.lev=='95%'","value":"#e8383d"},"value":"#000000"}}},
{"transform":[{"filter":"datum.k=='e'"}],"mark":{"type":"circle","size":10,"opacity":1},"encoding":{"y":{"field":"mid","type":"quantitative","scale":{"type":"log","domain":[0.001,100000],"nice":false}},"color":{"condition":{"test":"datum.lev=='95%'","value":"#e8383d"},"value":"#000000"}}},
{"transform":[{"filter":"datum.k=='e'"}],"mark":{"type":"text","align":"left","dx":3,"fontSize":10},"encoding":{"y":{"field":"mid","type":"quantitative","scale":{"type":"log","domain":[0.001,100000],"nice":false}},"text":{"field":"lev"},"color":{"condition":{"test":"datum.lev=='95%'","value":"#e8383d"},"value":"#000000"}}},
{"transform":[{"filter":"datum.k=='a'"}],"mark":{"type":"text","fontSize":13,"color":"#000000"},"encoding":{"y":{"field":"v","type":"quantitative","scale":{"type":"log","domain":[0.001,100000],"nice":false}},"text":{"field":"lab"}}},
{"transform":[{"filter":"datum.k=='n'"}],"mark":{"type":"text","fontSize":16,"align":"left","color":"#000000"},"encoding":{"y":{"field":"v","type":"quantitative","scale":{"type":"log","domain":[0.001,100000],"nice":false}},"text":{"field":"lab"}}},
{"transform":[{"filter":"datum.k=='m'"}],"mark":{"type":"text","fontSize":16,"align":"left","fontStyle":"italic","color":"#1010ff"},"encoding":{"y":{"field":"v","type":"quantitative","scale":{"type":"log","domain":[0.001,100000],"nice":false}},"text":{"field":"lab"}}}
]},
{"width":252,"height":252,"data":{"name":"d"},"transform":[{"filter":"datum.st=='HUA'"}],
"encoding":{"x":{"field":"f","type":"quantitative","scale":{"type":"log","domain":[0.1,30],"nice":false},"axis":{"values":[0.1,0.2,0.3,0.4,0.5,0.6,0.7,0.8,0.9,1,2,3,4,5,6,7,8,9,10,20,30],"labelExpr":"abs(log(datum.value)/LN10-round(log(datum.value)/LN10))<0.001 ? (datum.value<0.5?'10⁻¹':datum.value<5?'10⁰':'10¹') : (indexof([2,3,4,6],round(datum.value/pow(10,floor(log(datum.value)/LN10+0.000001))))>=0 ? ''+round(datum.value/pow(10,floor(log(datum.value)/LN10+0.000001))) : '')","labelBaseline":"top","labelFontSize":{"condition":{"test":"abs(log(datum.value)/LN10-round(log(datum.value)/LN10))<0.001","value":13},"value":8},"tickSize":{"condition":{"test":"abs(log(datum.value)/LN10-round(log(datum.value)/LN10))<0.001","value":-7},"value":-4},"labelPadding":{"condition":{"test":"abs(log(datum.value)/LN10-round(log(datum.value)/LN10))<0.001","value":16},"value":10},"title":null}}},
"layer":[
{"transform":[{"filter":"datum.k=='s'"}],"mark":{"type":"area","color":"#c8c8c8"},"encoding":{
 "y":{"field":"t","type":"quantitative","scale":{"type":"log","domain":[0.001,100000],"nice":false},"axis":{"values":[0.001,0.002,0.003,0.004,0.005,0.006,0.007,0.008,0.009,0.01,0.02,0.03,0.04,0.05,0.06,0.07,0.08,0.09,0.1,0.2,0.3,0.4,0.5,0.6,0.7,0.8,0.9,1,2,3,4,5,6,7,8,9,10,20,30,40,50,60,70,80,90,100,200,300,400,500,600,700,800,900,1000,2000,3000,4000,5000,6000,7000,8000,9000,10000,20000,30000,40000,50000,60000,70000,80000,90000],"labelExpr":"datum.value==10000?'10⁴':datum.value==100?'10²':datum.value==1?'10⁰':datum.value==0.01?'10⁻²':''","labelFontSize":{"condition":{"test":"abs(log(datum.value)/LN10-round(log(datum.value)/LN10))<0.001","value":13},"value":1},"tickSize":{"condition":{"test":"abs(log(datum.value)/LN10-round(log(datum.value)/LN10))<0.001","value":-7},"value":-3.5},"labelPadding":{"condition":{"test":"abs(log(datum.value)/LN10-round(log(datum.value)/LN10))<0.001","value":11},"value":8},"title":null}},
 "y2":{"field":"b"}}},
{"transform":[{"filter":"datum.k=='s'"}],"mark":{"type":"line","strokeWidth":1.5},"encoding":{"y":{"field":"b","type":"quantitative","scale":{"type":"log","domain":[0.001,100000],"nice":false}},"color":{"datum":"Background","type":"nominal","scale":{"domain":["Tsunami","Background"],"range":["#ff0000","#000000"]},"legend":null}}},
{"transform":[{"filter":"datum.k=='s'"}],"mark":{"type":"line","strokeWidth":2},"encoding":{"y":{"field":"t","type":"quantitative","scale":{"type":"log","domain":[0.001,100000],"nice":false}},"color":{"datum":"Tsunami","type":"nominal","scale":{"domain":["Tsunami","Background"],"range":["#ff0000","#000000"]},"legend":null}}},
{"transform":[{"filter":"datum.k=='e'"}],"mark":{"type":"rule","strokeWidth":1},"encoding":{"y":{"field":"lo","type":"quantitative","scale":{"type":"log","domain":[0.001,100000],"nice":false}},"y2":{"field":"hi"},"color":{"condition":{"test":"datum.lev=='95%'","value":"#e8383d"},"value":"#000000"}}},
{"transform":[{"filter":"datum.k=='e'"}],"mark":{"type":"tick","orient":"horizontal","size":7,"thickness":1},"encoding":{"y":{"field":"lo","type":"quantitative","scale":{"type":"log","domain":[0.001,100000],"nice":false}},"color":{"condition":{"test":"datum.lev=='95%'","value":"#e8383d"},"value":"#000000"}}},
{"transform":[{"filter":"datum.k=='e'"}],"mark":{"type":"tick","orient":"horizontal","size":7,"thickness":1},"encoding":{"y":{"field":"hi","type":"quantitative","scale":{"type":"log","domain":[0.001,100000],"nice":false}},"color":{"condition":{"test":"datum.lev=='95%'","value":"#e8383d"},"value":"#000000"}}},
{"transform":[{"filter":"datum.k=='e'"}],"mark":{"type":"circle","size":10,"opacity":1},"encoding":{"y":{"field":"mid","type":"quantitative","scale":{"type":"log","domain":[0.001,100000],"nice":false}},"color":{"condition":{"test":"datum.lev=='95%'","value":"#e8383d"},"value":"#000000"}}},
{"transform":[{"filter":"datum.k=='e'"}],"mark":{"type":"text","align":"left","dx":3,"fontSize":10},"encoding":{"y":{"field":"mid","type":"quantitative","scale":{"type":"log","domain":[0.001,100000],"nice":false}},"text":{"field":"lev"},"color":{"condition":{"test":"datum.lev=='95%'","value":"#e8383d"},"value":"#000000"}}},
{"transform":[{"filter":"datum.k=='a'"}],"mark":{"type":"text","fontSize":13,"color":"#000000"},"encoding":{"y":{"field":"v","type":"quantitative","scale":{"type":"log","domain":[0.001,100000],"nice":false}},"text":{"field":"lab"}}},
{"transform":[{"filter":"datum.k=='n'"}],"mark":{"type":"text","fontSize":16,"align":"left","color":"#000000"},"encoding":{"y":{"field":"v","type":"quantitative","scale":{"type":"log","domain":[0.001,100000],"nice":false}},"text":{"field":"lab"}}},
{"transform":[{"filter":"datum.k=='m'"}],"mark":{"type":"text","fontSize":16,"align":"left","fontStyle":"italic","color":"#1010ff"},"encoding":{"y":{"field":"v","type":"quantitative","scale":{"type":"log","domain":[0.001,100000],"nice":false}},"text":{"field":"lab"}}}
]},
{"width":252,"height":252,"data":{"name":"d"},"transform":[{"filter":"datum.st=='MAZ'"}],
"encoding":{"x":{"field":"f","type":"quantitative","scale":{"type":"log","domain":[0.07,30],"nice":false},"axis":{"values":[0.07,0.08,0.09,0.1,0.2,0.3,0.4,0.5,0.6,0.7,0.8,0.9,1,2,3,4,5,6,7,8,9,10,20,30],"labelExpr":"abs(log(datum.value)/LN10-round(log(datum.value)/LN10))<0.001 ? (datum.value<0.5?'10⁻¹':datum.value<5?'10⁰':'10¹') : (indexof([2,3,4,6],round(datum.value/pow(10,floor(log(datum.value)/LN10+0.000001))))>=0 ? ''+round(datum.value/pow(10,floor(log(datum.value)/LN10+0.000001))) : '')","labelBaseline":"top","labelFontSize":{"condition":{"test":"abs(log(datum.value)/LN10-round(log(datum.value)/LN10))<0.001","value":13},"value":8},"tickSize":{"condition":{"test":"abs(log(datum.value)/LN10-round(log(datum.value)/LN10))<0.001","value":-7},"value":-4},"labelPadding":{"condition":{"test":"abs(log(datum.value)/LN10-round(log(datum.value)/LN10))<0.001","value":16},"value":10},"title":null}}},
"layer":[
{"transform":[{"filter":"datum.k=='s'"}],"mark":{"type":"area","color":"#c8c8c8"},"encoding":{
 "y":{"field":"t","type":"quantitative","scale":{"type":"log","domain":[0.001,100000],"nice":false},"axis":{"values":[0.001,0.002,0.003,0.004,0.005,0.006,0.007,0.008,0.009,0.01,0.02,0.03,0.04,0.05,0.06,0.07,0.08,0.09,0.1,0.2,0.3,0.4,0.5,0.6,0.7,0.8,0.9,1,2,3,4,5,6,7,8,9,10,20,30,40,50,60,70,80,90,100,200,300,400,500,600,700,800,900,1000,2000,3000,4000,5000,6000,7000,8000,9000,10000,20000,30000,40000,50000,60000,70000,80000,90000],"labelExpr":"datum.value==10000?'10⁴':datum.value==100?'10²':datum.value==1?'10⁰':datum.value==0.01?'10⁻²':''","labelFontSize":{"condition":{"test":"abs(log(datum.value)/LN10-round(log(datum.value)/LN10))<0.001","value":13},"value":1},"tickSize":{"condition":{"test":"abs(log(datum.value)/LN10-round(log(datum.value)/LN10))<0.001","value":-7},"value":-3.5},"labelPadding":{"condition":{"test":"abs(log(datum.value)/LN10-round(log(datum.value)/LN10))<0.001","value":11},"value":8},"title":"Spectra  (cm²/cph)","titlePadding":13}},
 "y2":{"field":"b"}}},
{"transform":[{"filter":"datum.k=='s'"}],"mark":{"type":"line","strokeWidth":1.5},"encoding":{"y":{"field":"b","type":"quantitative","scale":{"type":"log","domain":[0.001,100000],"nice":false}},"color":{"datum":"Background","type":"nominal","scale":{"domain":["Tsunami","Background"],"range":["#ff0000","#000000"]},"legend":null}}},
{"transform":[{"filter":"datum.k=='s'"}],"mark":{"type":"line","strokeWidth":2},"encoding":{"y":{"field":"t","type":"quantitative","scale":{"type":"log","domain":[0.001,100000],"nice":false}},"color":{"datum":"Tsunami","type":"nominal","scale":{"domain":["Tsunami","Background"],"range":["#ff0000","#000000"]},"legend":null}}},
{"transform":[{"filter":"datum.k=='e'"}],"mark":{"type":"rule","strokeWidth":1},"encoding":{"y":{"field":"lo","type":"quantitative","scale":{"type":"log","domain":[0.001,100000],"nice":false}},"y2":{"field":"hi"},"color":{"condition":{"test":"datum.lev=='95%'","value":"#e8383d"},"value":"#000000"}}},
{"transform":[{"filter":"datum.k=='e'"}],"mark":{"type":"tick","orient":"horizontal","size":7,"thickness":1},"encoding":{"y":{"field":"lo","type":"quantitative","scale":{"type":"log","domain":[0.001,100000],"nice":false}},"color":{"condition":{"test":"datum.lev=='95%'","value":"#e8383d"},"value":"#000000"}}},
{"transform":[{"filter":"datum.k=='e'"}],"mark":{"type":"tick","orient":"horizontal","size":7,"thickness":1},"encoding":{"y":{"field":"hi","type":"quantitative","scale":{"type":"log","domain":[0.001,100000],"nice":false}},"color":{"condition":{"test":"datum.lev=='95%'","value":"#e8383d"},"value":"#000000"}}},
{"transform":[{"filter":"datum.k=='e'"}],"mark":{"type":"circle","size":10,"opacity":1},"encoding":{"y":{"field":"mid","type":"quantitative","scale":{"type":"log","domain":[0.001,100000],"nice":false}},"color":{"condition":{"test":"datum.lev=='95%'","value":"#e8383d"},"value":"#000000"}}},
{"transform":[{"filter":"datum.k=='e'"}],"mark":{"type":"text","align":"left","dx":3,"fontSize":10},"encoding":{"y":{"field":"mid","type":"quantitative","scale":{"type":"log","domain":[0.001,100000],"nice":false}},"text":{"field":"lev"},"color":{"condition":{"test":"datum.lev=='95%'","value":"#e8383d"},"value":"#000000"}}},
{"transform":[{"filter":"datum.k=='a'"}],"mark":{"type":"text","fontSize":13,"color":"#000000"},"encoding":{"y":{"field":"v","type":"quantitative","scale":{"type":"log","domain":[0.001,100000],"nice":false}},"text":{"field":"lab"}}},
{"transform":[{"filter":"datum.k=='n'"}],"mark":{"type":"text","fontSize":16,"align":"left","color":"#000000"},"encoding":{"y":{"field":"v","type":"quantitative","scale":{"type":"log","domain":[0.001,100000],"nice":false}},"text":{"field":"lab"}}},
{"transform":[{"filter":"datum.k=='m'"}],"mark":{"type":"text","fontSize":16,"align":"left","fontStyle":"italic","color":"#1010ff"},"encoding":{"y":{"field":"v","type":"quantitative","scale":{"type":"log","domain":[0.001,100000],"nice":false}},"text":{"field":"lab"}}}
]},
{"width":252,"height":252,"data":{"name":"d"},"transform":[{"filter":"datum.st=='LAZ'"}],
"encoding":{"x":{"field":"f","type":"quantitative","scale":{"type":"log","domain":[0.07,30],"nice":false},"axis":{"values":[0.07,0.08,0.09,0.1,0.2,0.3,0.4,0.5,0.6,0.7,0.8,0.9,1,2,3,4,5,6,7,8,9,10,20,30],"labelExpr":"abs(log(datum.value)/LN10-round(log(datum.value)/LN10))<0.001 ? (datum.value<0.5?'10⁻¹':datum.value<5?'10⁰':'10¹') : (indexof([2,3,4,6],round(datum.value/pow(10,floor(log(datum.value)/LN10+0.000001))))>=0 ? ''+round(datum.value/pow(10,floor(log(datum.value)/LN10+0.000001))) : '')","labelBaseline":"top","labelFontSize":{"condition":{"test":"abs(log(datum.value)/LN10-round(log(datum.value)/LN10))<0.001","value":13},"value":8},"tickSize":{"condition":{"test":"abs(log(datum.value)/LN10-round(log(datum.value)/LN10))<0.001","value":-7},"value":-4},"labelPadding":{"condition":{"test":"abs(log(datum.value)/LN10-round(log(datum.value)/LN10))<0.001","value":16},"value":10},"title":null}}},
"layer":[
{"transform":[{"filter":"datum.k=='s'"}],"mark":{"type":"area","color":"#c8c8c8"},"encoding":{
 "y":{"field":"t","type":"quantitative","scale":{"type":"log","domain":[0.001,100000],"nice":false},"axis":{"values":[0.001,0.002,0.003,0.004,0.005,0.006,0.007,0.008,0.009,0.01,0.02,0.03,0.04,0.05,0.06,0.07,0.08,0.09,0.1,0.2,0.3,0.4,0.5,0.6,0.7,0.8,0.9,1,2,3,4,5,6,7,8,9,10,20,30,40,50,60,70,80,90,100,200,300,400,500,600,700,800,900,1000,2000,3000,4000,5000,6000,7000,8000,9000,10000,20000,30000,40000,50000,60000,70000,80000,90000],"labelExpr":"datum.value==10000?'10⁴':datum.value==100?'10²':datum.value==1?'10⁰':datum.value==0.01?'10⁻²':''","labelFontSize":{"condition":{"test":"abs(log(datum.value)/LN10-round(log(datum.value)/LN10))<0.001","value":13},"value":1},"tickSize":{"condition":{"test":"abs(log(datum.value)/LN10-round(log(datum.value)/LN10))<0.001","value":-7},"value":-3.5},"labelPadding":{"condition":{"test":"abs(log(datum.value)/LN10-round(log(datum.value)/LN10))<0.001","value":11},"value":8},"title":null}},
 "y2":{"field":"b"}}},
{"transform":[{"filter":"datum.k=='s'"}],"mark":{"type":"line","strokeWidth":1.5},"encoding":{"y":{"field":"b","type":"quantitative","scale":{"type":"log","domain":[0.001,100000],"nice":false}},"color":{"datum":"Background","type":"nominal","scale":{"domain":["Tsunami","Background"],"range":["#ff0000","#000000"]},"legend":null}}},
{"transform":[{"filter":"datum.k=='s'"}],"mark":{"type":"line","strokeWidth":2},"encoding":{"y":{"field":"t","type":"quantitative","scale":{"type":"log","domain":[0.001,100000],"nice":false}},"color":{"datum":"Tsunami","type":"nominal","scale":{"domain":["Tsunami","Background"],"range":["#ff0000","#000000"]},"legend":null}}},
{"transform":[{"filter":"datum.k=='e'"}],"mark":{"type":"rule","strokeWidth":1},"encoding":{"y":{"field":"lo","type":"quantitative","scale":{"type":"log","domain":[0.001,100000],"nice":false}},"y2":{"field":"hi"},"color":{"condition":{"test":"datum.lev=='95%'","value":"#e8383d"},"value":"#000000"}}},
{"transform":[{"filter":"datum.k=='e'"}],"mark":{"type":"tick","orient":"horizontal","size":7,"thickness":1},"encoding":{"y":{"field":"lo","type":"quantitative","scale":{"type":"log","domain":[0.001,100000],"nice":false}},"color":{"condition":{"test":"datum.lev=='95%'","value":"#e8383d"},"value":"#000000"}}},
{"transform":[{"filter":"datum.k=='e'"}],"mark":{"type":"tick","orient":"horizontal","size":7,"thickness":1},"encoding":{"y":{"field":"hi","type":"quantitative","scale":{"type":"log","domain":[0.001,100000],"nice":false}},"color":{"condition":{"test":"datum.lev=='95%'","value":"#e8383d"},"value":"#000000"}}},
{"transform":[{"filter":"datum.k=='e'"}],"mark":{"type":"circle","size":10,"opacity":1},"encoding":{"y":{"field":"mid","type":"quantitative","scale":{"type":"log","domain":[0.001,100000],"nice":false}},"color":{"condition":{"test":"datum.lev=='95%'","value":"#e8383d"},"value":"#000000"}}},
{"transform":[{"filter":"datum.k=='e'"}],"mark":{"type":"text","align":"left","dx":3,"fontSize":10},"encoding":{"y":{"field":"mid","type":"quantitative","scale":{"type":"log","domain":[0.001,100000],"nice":false}},"text":{"field":"lev"},"color":{"condition":{"test":"datum.lev=='95%'","value":"#e8383d"},"value":"#000000"}}},
{"transform":[{"filter":"datum.k=='a'"}],"mark":{"type":"text","fontSize":13,"color":"#000000"},"encoding":{"y":{"field":"v","type":"quantitative","scale":{"type":"log","domain":[0.001,100000],"nice":false}},"text":{"field":"lab"}}},
{"transform":[{"filter":"datum.k=='n'"}],"mark":{"type":"text","fontSize":16,"align":"left","color":"#000000"},"encoding":{"y":{"field":"v","type":"quantitative","scale":{"type":"log","domain":[0.001,100000],"nice":false}},"text":{"field":"lab"}}},
{"transform":[{"filter":"datum.k=='m'"}],"mark":{"type":"text","fontSize":16,"align":"left","fontStyle":"italic","color":"#1010ff"},"encoding":{"y":{"field":"v","type":"quantitative","scale":{"type":"log","domain":[0.001,100000],"nice":false}},"text":{"field":"lab"}}}
]},
{"width":252,"height":252,"data":{"name":"d"},"transform":[{"filter":"datum.st=='SAL'"}],
"encoding":{"x":{"field":"f","type":"quantitative","scale":{"type":"log","domain":[0.07,30],"nice":false},"axis":{"values":[0.07,0.08,0.09,0.1,0.2,0.3,0.4,0.5,0.6,0.7,0.8,0.9,1,2,3,4,5,6,7,8,9,10,20,30],"labelExpr":"abs(log(datum.value)/LN10-round(log(datum.value)/LN10))<0.001 ? (datum.value<0.5?'10⁻¹':datum.value<5?'10⁰':'10¹') : (indexof([2,3,4,6],round(datum.value/pow(10,floor(log(datum.value)/LN10+0.000001))))>=0 ? ''+round(datum.value/pow(10,floor(log(datum.value)/LN10+0.000001))) : '')","labelBaseline":"top","labelFontSize":{"condition":{"test":"abs(log(datum.value)/LN10-round(log(datum.value)/LN10))<0.001","value":13},"value":8},"tickSize":{"condition":{"test":"abs(log(datum.value)/LN10-round(log(datum.value)/LN10))<0.001","value":-7},"value":-4},"labelPadding":{"condition":{"test":"abs(log(datum.value)/LN10-round(log(datum.value)/LN10))<0.001","value":16},"value":10},"title":"Frequency  (cph)","titleX":273,"titleY":28,"titleBaseline":"top"}}},
"layer":[
{"transform":[{"filter":"datum.k=='s'"}],"mark":{"type":"area","color":"#c8c8c8"},"encoding":{
 "y":{"field":"t","type":"quantitative","scale":{"type":"log","domain":[0.001,100000],"nice":false},"axis":{"values":[0.001,0.002,0.003,0.004,0.005,0.006,0.007,0.008,0.009,0.01,0.02,0.03,0.04,0.05,0.06,0.07,0.08,0.09,0.1,0.2,0.3,0.4,0.5,0.6,0.7,0.8,0.9,1,2,3,4,5,6,7,8,9,10,20,30,40,50,60,70,80,90,100,200,300,400,500,600,700,800,900,1000,2000,3000,4000,5000,6000,7000,8000,9000,10000,20000,30000,40000,50000,60000,70000,80000,90000],"labelExpr":"datum.value==10000?'10⁴':datum.value==100?'10²':datum.value==1?'10⁰':datum.value==0.01?'10⁻²':''","labelFontSize":{"condition":{"test":"abs(log(datum.value)/LN10-round(log(datum.value)/LN10))<0.001","value":13},"value":1},"tickSize":{"condition":{"test":"abs(log(datum.value)/LN10-round(log(datum.value)/LN10))<0.001","value":-7},"value":-3.5},"labelPadding":{"condition":{"test":"abs(log(datum.value)/LN10-round(log(datum.value)/LN10))<0.001","value":11},"value":8},"title":null}},
 "y2":{"field":"b"}}},
{"transform":[{"filter":"datum.k=='s'"}],"mark":{"type":"line","strokeWidth":1.5},"encoding":{"y":{"field":"b","type":"quantitative","scale":{"type":"log","domain":[0.001,100000],"nice":false}},"color":{"datum":"Background","type":"nominal","scale":{"domain":["Tsunami","Background"],"range":["#ff0000","#000000"]},"legend":{"orient":"bottom-right","offset":10,"title":null,"symbolType":"M-1,0L6,0","symbolSize":100,"symbolStrokeWidth":2,"labelFontSize":13,"labelFont":"Liberation Sans","labelOffset":38,"strokeColor":"#000000","fillColor":"#ffffff","padding":6,"rowPadding":2,"encode":{"labels":{"update":{"fill":{"signal":"datum.label == 'Tsunami' ? '#ff0000' : '#000000'"}}}}}}}},
{"transform":[{"filter":"datum.k=='s'"}],"mark":{"type":"line","strokeWidth":2},"encoding":{"y":{"field":"t","type":"quantitative","scale":{"type":"log","domain":[0.001,100000],"nice":false}},"color":{"datum":"Tsunami","type":"nominal","scale":{"domain":["Tsunami","Background"],"range":["#ff0000","#000000"]}}}},
{"transform":[{"filter":"datum.k=='e'"}],"mark":{"type":"rule","strokeWidth":1},"encoding":{"y":{"field":"lo","type":"quantitative","scale":{"type":"log","domain":[0.001,100000],"nice":false}},"y2":{"field":"hi"},"color":{"condition":{"test":"datum.lev=='95%'","value":"#e8383d"},"value":"#000000"}}},
{"transform":[{"filter":"datum.k=='e'"}],"mark":{"type":"tick","orient":"horizontal","size":7,"thickness":1},"encoding":{"y":{"field":"lo","type":"quantitative","scale":{"type":"log","domain":[0.001,100000],"nice":false}},"color":{"condition":{"test":"datum.lev=='95%'","value":"#e8383d"},"value":"#000000"}}},
{"transform":[{"filter":"datum.k=='e'"}],"mark":{"type":"tick","orient":"horizontal","size":7,"thickness":1},"encoding":{"y":{"field":"hi","type":"quantitative","scale":{"type":"log","domain":[0.001,100000],"nice":false}},"color":{"condition":{"test":"datum.lev=='95%'","value":"#e8383d"},"value":"#000000"}}},
{"transform":[{"filter":"datum.k=='e'"}],"mark":{"type":"circle","size":10,"opacity":1},"encoding":{"y":{"field":"mid","type":"quantitative","scale":{"type":"log","domain":[0.001,100000],"nice":false}},"color":{"condition":{"test":"datum.lev=='95%'","value":"#e8383d"},"value":"#000000"}}},
{"transform":[{"filter":"datum.k=='e'"}],"mark":{"type":"text","align":"left","dx":3,"fontSize":10},"encoding":{"y":{"field":"mid","type":"quantitative","scale":{"type":"log","domain":[0.001,100000],"nice":false}},"text":{"field":"lev"},"color":{"condition":{"test":"datum.lev=='95%'","value":"#e8383d"},"value":"#000000"}}},
{"transform":[{"filter":"datum.k=='a'"}],"mark":{"type":"text","fontSize":13,"color":"#000000"},"encoding":{"y":{"field":"v","type":"quantitative","scale":{"type":"log","domain":[0.001,100000],"nice":false}},"text":{"field":"lab"}}},
{"transform":[{"filter":"datum.k=='n'"}],"mark":{"type":"text","fontSize":16,"align":"left","color":"#000000"},"encoding":{"y":{"field":"v","type":"quantitative","scale":{"type":"log","domain":[0.001,100000],"nice":false}},"text":{"field":"lab"}}},
{"transform":[{"filter":"datum.k=='m'"}],"mark":{"type":"text","fontSize":16,"align":"left","fontStyle":"italic","color":"#1010ff"},"encoding":{"y":{"field":"v","type":"quantitative","scale":{"type":"log","domain":[0.001,100000],"nice":false}},"text":{"field":"lab"}}}
]},
{"width":252,"height":252,"data":{"name":"d"},"transform":[{"filter":"datum.st=='PUE'"}],
"encoding":{"x":{"field":"f","type":"quantitative","scale":{"type":"log","domain":[0.07,30],"nice":false},"axis":{"values":[0.07,0.08,0.09,0.1,0.2,0.3,0.4,0.5,0.6,0.7,0.8,0.9,1,2,3,4,5,6,7,8,9,10,20,30],"labelExpr":"abs(log(datum.value)/LN10-round(log(datum.value)/LN10))<0.001 ? (datum.value<0.5?'10⁻¹':datum.value<5?'10⁰':'10¹') : (indexof([2,3,4,6],round(datum.value/pow(10,floor(log(datum.value)/LN10+0.000001))))>=0 ? ''+round(datum.value/pow(10,floor(log(datum.value)/LN10+0.000001))) : '')","labelBaseline":"top","labelFontSize":{"condition":{"test":"abs(log(datum.value)/LN10-round(log(datum.value)/LN10))<0.001","value":13},"value":8},"tickSize":{"condition":{"test":"abs(log(datum.value)/LN10-round(log(datum.value)/LN10))<0.001","value":-7},"value":-4},"labelPadding":{"condition":{"test":"abs(log(datum.value)/LN10-round(log(datum.value)/LN10))<0.001","value":16},"value":10},"title":null}}},
"layer":[
{"transform":[{"filter":"datum.k=='s'"}],"mark":{"type":"area","color":"#c8c8c8"},"encoding":{
 "y":{"field":"t","type":"quantitative","scale":{"type":"log","domain":[0.001,100000],"nice":false},"axis":{"values":[0.001,0.002,0.003,0.004,0.005,0.006,0.007,0.008,0.009,0.01,0.02,0.03,0.04,0.05,0.06,0.07,0.08,0.09,0.1,0.2,0.3,0.4,0.5,0.6,0.7,0.8,0.9,1,2,3,4,5,6,7,8,9,10,20,30,40,50,60,70,80,90,100,200,300,400,500,600,700,800,900,1000,2000,3000,4000,5000,6000,7000,8000,9000,10000,20000,30000,40000,50000,60000,70000,80000,90000],"labelExpr":"datum.value==10000?'10⁴':datum.value==100?'10²':datum.value==1?'10⁰':datum.value==0.01?'10⁻²':''","labelFontSize":{"condition":{"test":"abs(log(datum.value)/LN10-round(log(datum.value)/LN10))<0.001","value":13},"value":1},"tickSize":{"condition":{"test":"abs(log(datum.value)/LN10-round(log(datum.value)/LN10))<0.001","value":-7},"value":-3.5},"labelPadding":{"condition":{"test":"abs(log(datum.value)/LN10-round(log(datum.value)/LN10))<0.001","value":11},"value":8},"title":null}},
 "y2":{"field":"b"}}},
{"transform":[{"filter":"datum.k=='s'"}],"mark":{"type":"line","strokeWidth":1.5},"encoding":{"y":{"field":"b","type":"quantitative","scale":{"type":"log","domain":[0.001,100000],"nice":false}},"color":{"datum":"Background","type":"nominal","scale":{"domain":["Tsunami","Background"],"range":["#ff0000","#000000"]},"legend":null}}},
{"transform":[{"filter":"datum.k=='s'"}],"mark":{"type":"line","strokeWidth":2},"encoding":{"y":{"field":"t","type":"quantitative","scale":{"type":"log","domain":[0.001,100000],"nice":false}},"color":{"datum":"Tsunami","type":"nominal","scale":{"domain":["Tsunami","Background"],"range":["#ff0000","#000000"]},"legend":null}}},
{"transform":[{"filter":"datum.k=='e'"}],"mark":{"type":"rule","strokeWidth":1},"encoding":{"y":{"field":"lo","type":"quantitative","scale":{"type":"log","domain":[0.001,100000],"nice":false}},"y2":{"field":"hi"},"color":{"condition":{"test":"datum.lev=='95%'","value":"#e8383d"},"value":"#000000"}}},
{"transform":[{"filter":"datum.k=='e'"}],"mark":{"type":"tick","orient":"horizontal","size":7,"thickness":1},"encoding":{"y":{"field":"lo","type":"quantitative","scale":{"type":"log","domain":[0.001,100000],"nice":false}},"color":{"condition":{"test":"datum.lev=='95%'","value":"#e8383d"},"value":"#000000"}}},
{"transform":[{"filter":"datum.k=='e'"}],"mark":{"type":"tick","orient":"horizontal","size":7,"thickness":1},"encoding":{"y":{"field":"hi","type":"quantitative","scale":{"type":"log","domain":[0.001,100000],"nice":false}},"color":{"condition":{"test":"datum.lev=='95%'","value":"#e8383d"},"value":"#000000"}}},
{"transform":[{"filter":"datum.k=='e'"}],"mark":{"type":"circle","size":10,"opacity":1},"encoding":{"y":{"field":"mid","type":"quantitative","scale":{"type":"log","domain":[0.001,100000],"nice":false}},"color":{"condition":{"test":"datum.lev=='95%'","value":"#e8383d"},"value":"#000000"}}},
{"transform":[{"filter":"datum.k=='e'"}],"mark":{"type":"text","align":"left","dx":3,"fontSize":10},"encoding":{"y":{"field":"mid","type":"quantitative","scale":{"type":"log","domain":[0.001,100000],"nice":false}},"text":{"field":"lev"},"color":{"condition":{"test":"datum.lev=='95%'","value":"#e8383d"},"value":"#000000"}}},
{"transform":[{"filter":"datum.k=='a'"}],"mark":{"type":"text","fontSize":13,"color":"#000000"},"encoding":{"y":{"field":"v","type":"quantitative","scale":{"type":"log","domain":[0.001,100000],"nice":false}},"text":{"field":"lab"}}},
{"transform":[{"filter":"datum.k=='n'"}],"mark":{"type":"text","fontSize":16,"align":"left","color":"#000000"},"encoding":{"y":{"field":"v","type":"quantitative","scale":{"type":"log","domain":[0.001,100000],"nice":false}},"text":{"field":"lab"}}},
{"transform":[{"filter":"datum.k=='m'"}],"mark":{"type":"text","fontSize":16,"align":"left","fontStyle":"italic","color":"#1010ff"},"encoding":{"y":{"field":"v","type":"quantitative","scale":{"type":"log","domain":[0.001,100000],"nice":false}},"text":{"field":"lab"}}}
]}
]
}
